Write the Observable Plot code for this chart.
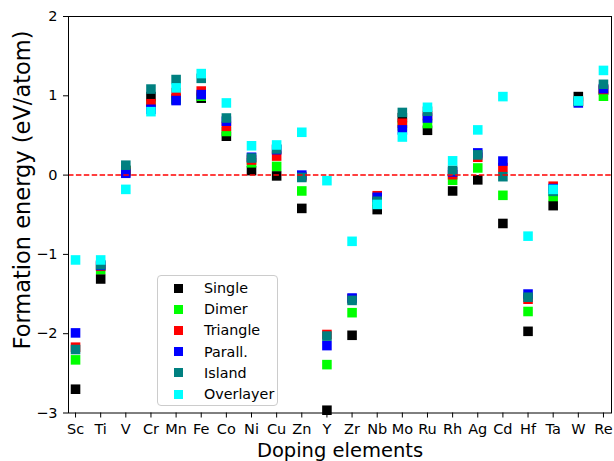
<!DOCTYPE html>
<html><head><meta charset="utf-8">
<script src="https://cdn.jsdelivr.net/npm/d3@7"></script>
<script src="https://cdn.jsdelivr.net/npm/@observablehq/plot@0.6"></script>
<style>
body{margin:0;background:#fff;font-family:"DejaVu Sans",sans-serif;}
#wrap{position:relative;width:614px;height:461px;overflow:hidden;}
#legend{position:absolute;left:157px;top:275px;width:121px;height:131px;box-sizing:border-box;border:1px solid #cccccc;border-radius:4px;background:rgba(255,255,255,0.8);font-size:14.3px;color:#000;}
.row{position:absolute;left:0;height:20px;line-height:20px;white-space:nowrap;}
.sw{position:absolute;left:15.5px;top:5.5px;width:9px;height:9px;}
.lb{position:absolute;left:46px;top:0;}
#ylab{position:absolute;left:-178px;top:177px;width:400px;height:26px;line-height:26px;text-align:center;font-size:22.5px;color:#000;transform:rotate(-90deg);transform-origin:200px 13px;white-space:nowrap;}
</style>
</head><body>
<div id="wrap"><div id="chart"></div><div id="legend"></div><div id="ylab"></div></div>
<script>
const elements = ["Sc","Ti","V","Cr","Mn","Fe","Co","Ni","Cu","Zn","Y","Zr","Nb","Mo","Ru","Rh","Ag","Cd","Hf","Ta","W","Re"];
const seriesNames = ["Single","Dimer","Triangle","Parall.","Island","Overlayer"];
const seriesColors = ["#000000","#00ff00","#ff0000","#0000ff","#008080","#00ffff"];
const single    = [-2.70,-1.31,0.06,0.99,0.96,0.97,0.49,0.057,-0.01,-0.42,-2.965,-2.02,-0.435,0.725,0.565,-0.20,-0.06,-0.61,-1.97,-0.385,0.99,1.07];
const dimer     = [-2.33,-1.19,0.05,0.88,0.95,0.995,0.55,0.155,0.11,-0.20,-2.39,-1.735,-0.35,0.62,0.65,-0.065,0.09,-0.255,-1.72,-0.27,0.93,0.995];
const triangle  = [-2.17,-1.15,0.04,0.90,1.04,1.06,0.615,0.19,0.24,-0.02,-2.01,-1.56,-0.26,0.654,0.75,0.005,0.225,0.095,-1.565,-0.14,0.93,1.08];
const parall    = [-1.99,-1.14,0.023,0.83,0.94,1.015,0.68,0.225,0.32,0.0,-2.15,-1.55,-0.28,0.57,0.72,0.04,0.28,0.177,-1.50,-0.17,0.91,1.09];
const island    = [-2.20,-1.13,0.125,1.085,1.205,1.22,0.72,0.215,0.33,-0.03,-2.03,-1.58,-0.33,0.79,0.805,0.06,0.255,-0.02,-1.54,-0.205,0.93,1.145];
const overlayer = [-1.07,-1.07,-0.18,0.80,1.10,1.28,0.91,0.37,0.38,0.54,-0.07,-0.835,-0.37,0.48,0.855,0.18,0.57,0.99,-0.77,-0.18,0.935,1.32];
const yTicks = [-3,-2,-1,0,1,2];
const xLabel = "Doping elements";
const yLabel = "Formation energy (eV/atom)";

const allSeries = [single, dimer, triangle, parall, island, overlayer];
const data = [];
allSeries.forEach((vals, s) => vals.forEach((v, i) => data.push({i, v, series: seriesNames[s]})));

const chart = Plot.plot({
  width: 614, height: 461,
  marginLeft: 68, marginRight: 3, marginTop: 16, marginBottom: 48.5,
  style: {fontFamily: "DejaVu Sans", fontSize: "14.5px", background: "white", color: "black"},
  x: {domain: [-0.28, 21.32]},
  y: {domain: [-3, 2]},
  color: {domain: seriesNames, range: seriesColors},
  marks: [
    Plot.dot(data, {x: "i", y: "v", fill: "series", symbol: "square", r: 5.4}),
    Plot.ruleY([0], {stroke: "#ff0000", strokeWidth: 1.5, strokeDasharray: "5.5,2.4"}),
    Plot.frame({stroke: "black", strokeWidth: 1}),
    Plot.axisX({ticks: d3.range(elements.length), tickFormat: i => elements[i], tickSize: 5, tickPadding: 6, label: null, fontSize: 14.5}),
    Plot.axisY({ticks: yTicks, tickFormat: d3.format("d"), tickSize: 5, tickPadding: 6, label: null, fontSize: 14.5}),
    Plot.text([xLabel], {frameAnchor: "bottom", lineAnchor: "bottom", dy: 44, fontSize: 19.5, text: d => d})
  ]
});
document.getElementById("chart").appendChild(chart);
document.getElementById("ylab").textContent = yLabel;

const legend = document.getElementById("legend");
seriesNames.forEach((name, k) => {
  const row = document.createElement("div");
  row.className = "row";
  row.style.top = (2 + k * 21.2) + "px";
  const sw = document.createElement("div");
  sw.className = "sw";
  sw.style.background = seriesColors[k];
  const lb = document.createElement("div");
  lb.className = "lb";
  lb.textContent = name;
  row.appendChild(sw); row.appendChild(lb);
  legend.appendChild(row);
});
</script>
</body></html>
